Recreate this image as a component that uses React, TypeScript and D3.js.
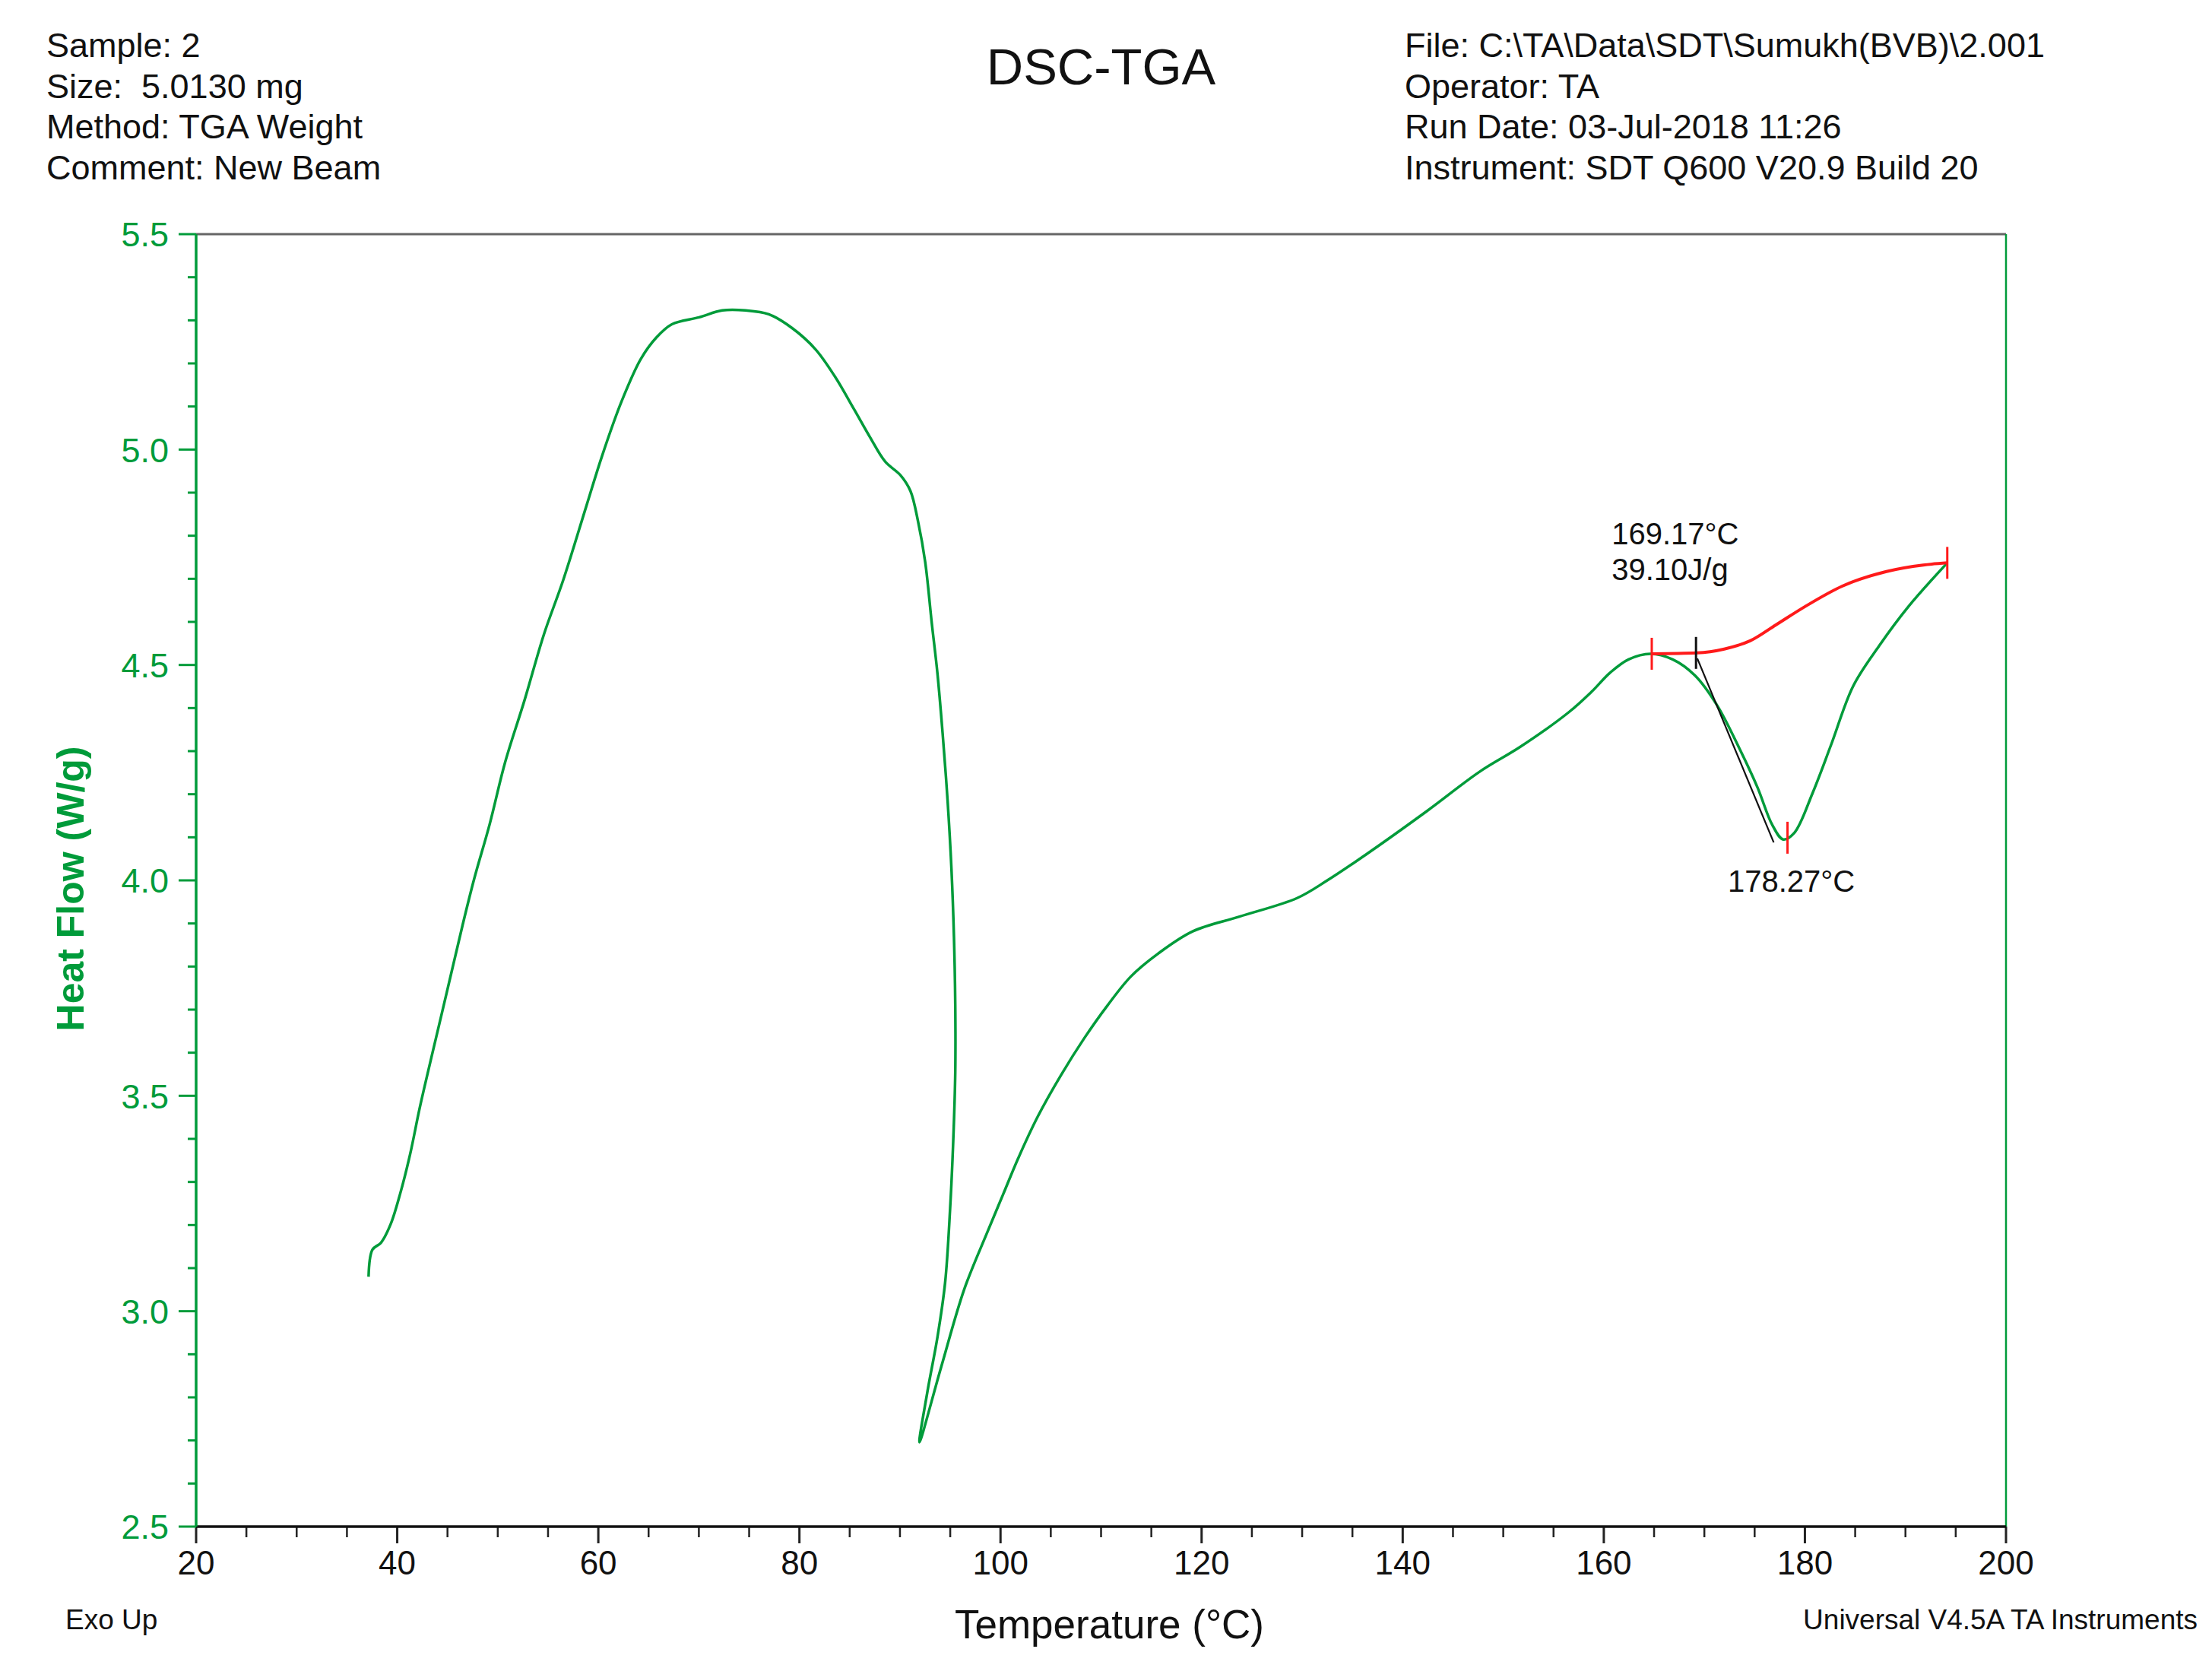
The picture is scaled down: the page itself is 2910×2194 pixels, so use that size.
import React from 'react';
import * as d3 from 'd3';

// header / footer text
const HEADER_LEFT = ['Sample: 2', 'Size:  5.0130 mg', 'Method: TGA Weight', 'Comment: New Beam'];
const HEADER_RIGHT = [
  'File: C:\\TA\\Data\\SDT\\Sumukh(BVB)\\2.001',
  'Operator: TA',
  'Run Date: 03-Jul-2018 11:26',
  'Instrument: SDT Q600 V20.9 Build 20'
];
const TITLE = 'DSC-TGA';
const X_LABEL = 'Temperature (°C)';
const Y_LABEL = 'Heat Flow (W/g)';
const FOOT_LEFT = 'Exo Up';
const FOOT_RIGHT = 'Universal V4.5A TA Instruments';

// heat flow trace (temperature °C, W/g), in acquisition order
const flowTemp = [
  37.15, 37.54, 38.39, 39.35, 40.31, 41.28, 42.24, 43.40, 44.95, 46.49,
  47.65, 49.19, 50.73, 52.66, 54.59, 56.51, 58.80, 60.37, 62.30, 64.22,
  65.77, 67.32, 70.02, 72.33, 74.64, 76.96, 79.27, 81.59, 83.52, 85.45,
  86.99, 88.53, 90.07, 91.04, 91.81, 92.51, 93.16, 93.73, 94.24, 94.74,
  95.12, 95.37, 95.50, 95.50, 95.30, 94.99, 94.49, 93.73, 92.73, 91.94,
  94.07, 96.38, 98.70, 100.24, 101.78, 103.71, 106.02, 108.34, 110.65, 112.97,
  115.67, 119.14, 123.77, 129.50, 132.44, 136.35, 142.42, 147.70, 151.70, 156.50,
  158.79, 160.62, 162.46, 164.65, 166.85, 169.05, 171.25, 173.45, 175.28, 176.75,
  177.84, 178.94, 180.77, 182.61, 184.80, 187.37, 190.31, 194.16
];
const flowValue = [
  3.080, 3.143, 3.159, 3.202, 3.274, 3.364, 3.472, 3.589, 3.742, 3.895,
  4.003, 4.130, 4.274, 4.418, 4.571, 4.697, 4.868, 4.985, 5.111, 5.210,
  5.260, 5.291, 5.307, 5.323, 5.323, 5.314, 5.282, 5.233, 5.170, 5.093,
  5.030, 4.972, 4.940, 4.904, 4.832, 4.739, 4.598, 4.480, 4.342, 4.184,
  4.027, 3.869, 3.712, 3.554, 3.396, 3.239, 3.066, 2.940, 2.813, 2.696,
  2.868, 3.050, 3.184, 3.270, 3.356, 3.452, 3.548, 3.634, 3.710, 3.777,
  3.830, 3.882, 3.916, 3.959, 3.999, 4.060, 4.161, 4.253, 4.310, 4.390,
  4.438, 4.482, 4.513, 4.526, 4.513, 4.476, 4.407, 4.308, 4.216, 4.129,
  4.095, 4.110, 4.203, 4.315, 4.451, 4.544, 4.636, 4.737
];

// integration baseline (red) of the melting peak
const baseTemp = [164.77, 169.27, 171.98, 174.55, 177.11, 180.04, 183.71, 188.11, 191.77, 194.16];
const baseValue = [4.526, 4.528, 4.537, 4.556, 4.593, 4.636, 4.683, 4.717, 4.732, 4.737];

// onset tangent (black)
const tangentTemp = [169.3, 176.9];
const tangentValue = [4.515, 4.088];

// analysis results
const onsetTemp = 169.17;
const onsetValue = 4.528;
const peakTemp = 178.27;
const peakValue = 4.099;
const enthalpy = 39.10;

const W = 2910;
const H = 2194;
const GREEN = '#009b3a';
const RED = '#ff1a1a';
const FONT = '"Liberation Sans", Arial, sans-serif';

export default function App() {
  const x = d3.scaleLinear().domain([20, 200]).range([258, 2639]);
  const y = d3.scaleLinear().domain([2.5, 5.5]).range([2008, 308]);

  // the trace loops back on itself, so a parametric spline
  const flowLine = d3.line<[number, number]>()
    .x(d => x(d[0]))
    .y(d => y(d[1]))
    .curve(d3.curveCatmullRom.alpha(0.5));
  const baseLine = d3.line<[number, number]>()
    .x(d => x(d[0]))
    .y(d => y(d[1]))
    .curve(d3.curveMonotoneX);

  const flowPath = flowLine(flowTemp.map((t, i) => [t, flowValue[i]]));
  const basePath = baseLine(baseTemp.map((t, i) => [t, baseValue[i]]));
  const tangentPath = d3.line<[number, number]>()
    .x(d => x(d[0])).y(d => y(d[1]))(tangentTemp.map((t, i) => [t, tangentValue[i]]));

  const xMajor = x.ticks(9);
  const xMinor = d3.range(20, 200.01, 5).filter(v => v % 20 !== 0);
  const yMajor = y.ticks(6);
  const yMinor = d3.range(25, 55.1, 1).map(v => v / 10).filter(v => Math.round(v * 10) % 5 !== 0);

  const [x0, x1] = x.range();
  const [yb, yt] = y.range();

  // little vertical markers on the analysis points
  const markers = [
    { t: baseTemp[0], v: baseValue[0], c: RED },
    { t: onsetTemp, v: onsetValue, c: '#111' },
    { t: baseTemp[baseTemp.length - 1], v: baseValue[baseValue.length - 1], c: RED },
    { t: peakTemp, v: peakValue, c: RED }
  ];

  return (
    <svg width={W} height={H} style={{ position: 'absolute', left: 0, top: 0, background: '#fff' }}
      fontFamily={FONT}>
      <rect width={W} height={H} fill="#fff" />

      {/* header */}
      {HEADER_LEFT.map((s, i) => (
        <text key={'hl' + i} x={61} y={75 + i * 53.7} fontSize={45} fill="#111" xmlSpace="preserve">{s}</text>
      ))}
      {HEADER_RIGHT.map((s, i) => (
        <text key={'hr' + i} x={1848} y={75 + i * 53.7} fontSize={45} fill="#111">{s}</text>
      ))}
      <text x={(x0 + x1) / 2} y={111} fontSize={67} textAnchor="middle" fill="#111">{TITLE}</text>

      {/* frame */}
      <line x1={x0} x2={x1} y1={yt} y2={yt} stroke="#666" strokeWidth={3} />
      <line x1={x1} x2={x1} y1={yt} y2={yb} stroke={GREEN} strokeWidth={2.5} />

      {/* x axis */}
      {xMinor.map(v => (
        <line key={'xm' + v} x1={x(v)} x2={x(v)} y1={yb} y2={yb + 14} stroke="#222" strokeWidth={2.5} />
      ))}
      {xMajor.map(v => (
        <g key={'xM' + v}>
          <line x1={x(v)} x2={x(v)} y1={yb} y2={yb + 22} stroke="#222" strokeWidth={3} />
          <text x={x(v)} y={2071} fontSize={44} textAnchor="middle" fill="#111">{d3.format('d')(v)}</text>
        </g>
      ))}
      <line x1={x0} x2={x1} y1={yb} y2={yb} stroke="#111" strokeWidth={3.5} />

      {/* y axis */}
      {yMinor.map(v => (
        <line key={'ym' + v} x1={x0 - 11} x2={x0} y1={y(v)} y2={y(v)} stroke={GREEN} strokeWidth={3} />
      ))}
      {yMajor.map(v => (
        <g key={'yM' + v}>
          <line x1={x0 - 23} x2={x0} y1={y(v)} y2={y(v)} stroke={GREEN} strokeWidth={3} />
          <text x={x0 - 36} y={y(v)} dy="0.36em" fontSize={45} textAnchor="end" fill={GREEN}>
            {d3.format('.1f')(v)}
          </text>
        </g>
      ))}
      <line x1={x0} x2={x0} y1={yt} y2={yb} stroke={GREEN} strokeWidth={3.5} />

      {/* axis titles */}
      <text x={(x0 + x1) / 2 + 11} y={2155} fontSize={53} textAnchor="middle" fill="#111">{X_LABEL}</text>
      <text transform={`translate(110,${(yt + yb) / 2 + 11}) rotate(-90)`} fontSize={50} fontWeight="bold"
        textAnchor="middle" fill={GREEN}>{Y_LABEL}</text>

      {/* curves */}
      <path d={flowPath || ''} fill="none" stroke={GREEN} strokeWidth={3.5} strokeLinejoin="round" />
      <path d={basePath || ''} fill="none" stroke={RED} strokeWidth={4} />
      <path d={tangentPath || ''} fill="none" stroke="#111" strokeWidth={2.2} />
      {markers.map((m, i) => (
        <line key={'mk' + i} x1={x(m.t)} x2={x(m.t)} y1={y(m.v) - 21} y2={y(m.v) + 21}
          stroke={m.c} strokeWidth={3} />
      ))}

      {/* analysis labels */}
      <text x={x(onsetTemp) - 111} y={y(onsetValue) - 143} fontSize={40} fill="#111">
        {d3.format('.2f')(onsetTemp)}°C
      </text>
      <text x={x(onsetTemp) - 111} y={y(onsetValue) - 96} fontSize={40} fill="#111">
        {d3.format('.2f')(enthalpy)}J/g
      </text>
      <text x={x(peakTemp) + 5} y={y(peakValue) + 71} fontSize={40} textAnchor="middle" fill="#111">
        {d3.format('.2f')(peakTemp)}°C
      </text>

      {/* footer */}
      <text x={86} y={2143} fontSize={37} fill="#111">{FOOT_LEFT}</text>
      <text x={2891} y={2143} fontSize={37} textAnchor="end" fill="#111">{FOOT_RIGHT}</text>
    </svg>
  );
}
